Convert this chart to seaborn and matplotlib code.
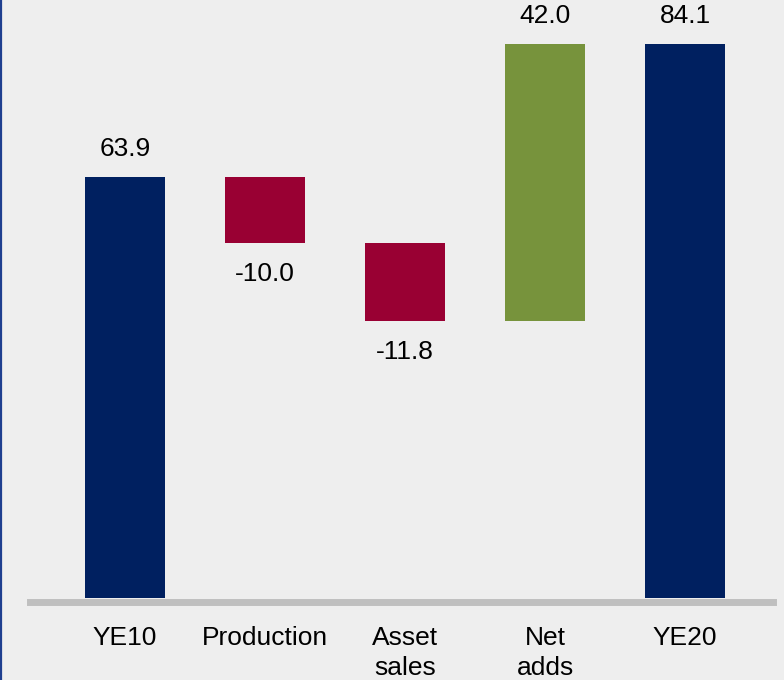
import numpy as np
import pandas as pd
import matplotlib
matplotlib.use("Agg")
import matplotlib.pyplot as plt
from matplotlib.lines import Line2D
import seaborn as sn

# Waterfall data
categories = ["YE10", "Production", "Asset\nsales", "Net\nadds", "YE20"]
values = [63.9, -10.0, -11.8, 42.0, 84.1]
is_total = [True, False, False, False, True]

NAVY = "#002060"
RED = "#990033"
GREEN = "#77933C"
BG = "#EEEEEE"

# Bar bottoms from the running total
bottoms = []
running = 0.0
for v, tot in zip(values, is_total):
    if tot:
        bottoms.append(0.0)
        running = v
    else:
        bottoms.append(running)
        running += v
colors = [NAVY if t else (GREEN if v > 0 else RED) for v, t in zip(values, is_total)]

df = pd.DataFrame({"cat": categories, "val": values})

sn.set_style("white")
plt.rcParams["font.family"] = ["Liberation Sans", "DejaVu Sans"]

fig = plt.figure(figsize=(7.84, 6.8), dpi=100, facecolor=BG)
ax = fig.add_axes([30 / 784, 1 - 601.5 / 680, 743 / 784, 601.5 / 680])
ax.set_facecolor(BG)

sn.barplot(data=df, x="cat", y="val", order=categories, color=NAVY,
           bottom=bottoms, width=0.57, errorbar=None, ax=ax,
           linewidth=0, saturation=1)
for p, c in zip(ax.patches, colors):
    p.set_facecolor(c)

# value labels
for i, (v, b) in enumerate(zip(values, bottoms)):
    end = b + v
    if v >= 0:
        ax.annotate(f"{v:.1f}", (i, end), xytext=(0, 11.5), textcoords="offset points",
                    ha="center", va="bottom", fontsize=19, color="black")
    else:
        ax.annotate(f"{v:.1f}", (i, end), xytext=(0, -14), textcoords="offset points",
                    ha="center", va="top", fontsize=19, color="black")

ax.set_xlim(-0.679, 4.628)
ax.set_ylim(-0.53, 90.75)
ax.set_xlabel("")
ax.set_ylabel("")
ax.set_yticks([])
ax.tick_params(axis="x", length=0, pad=17.5, labelsize=19, colors="black")
for lbl in ax.get_xticklabels():
    lbl.set_linespacing(1.33)
for s in ["left", "right", "top"]:
    ax.spines[s].set_visible(False)
ax.spines["bottom"].set_color("#BFBFBF")
ax.spines["bottom"].set_linewidth(5)

# thin blue border on the left edge
fig.add_artist(Line2D([0.0015, 0.0015], [0, 1], transform=fig.transFigure,
                      color="#1F3F8F", linewidth=1.6))

fig.savefig("out.png", dpi=100, facecolor=BG)
